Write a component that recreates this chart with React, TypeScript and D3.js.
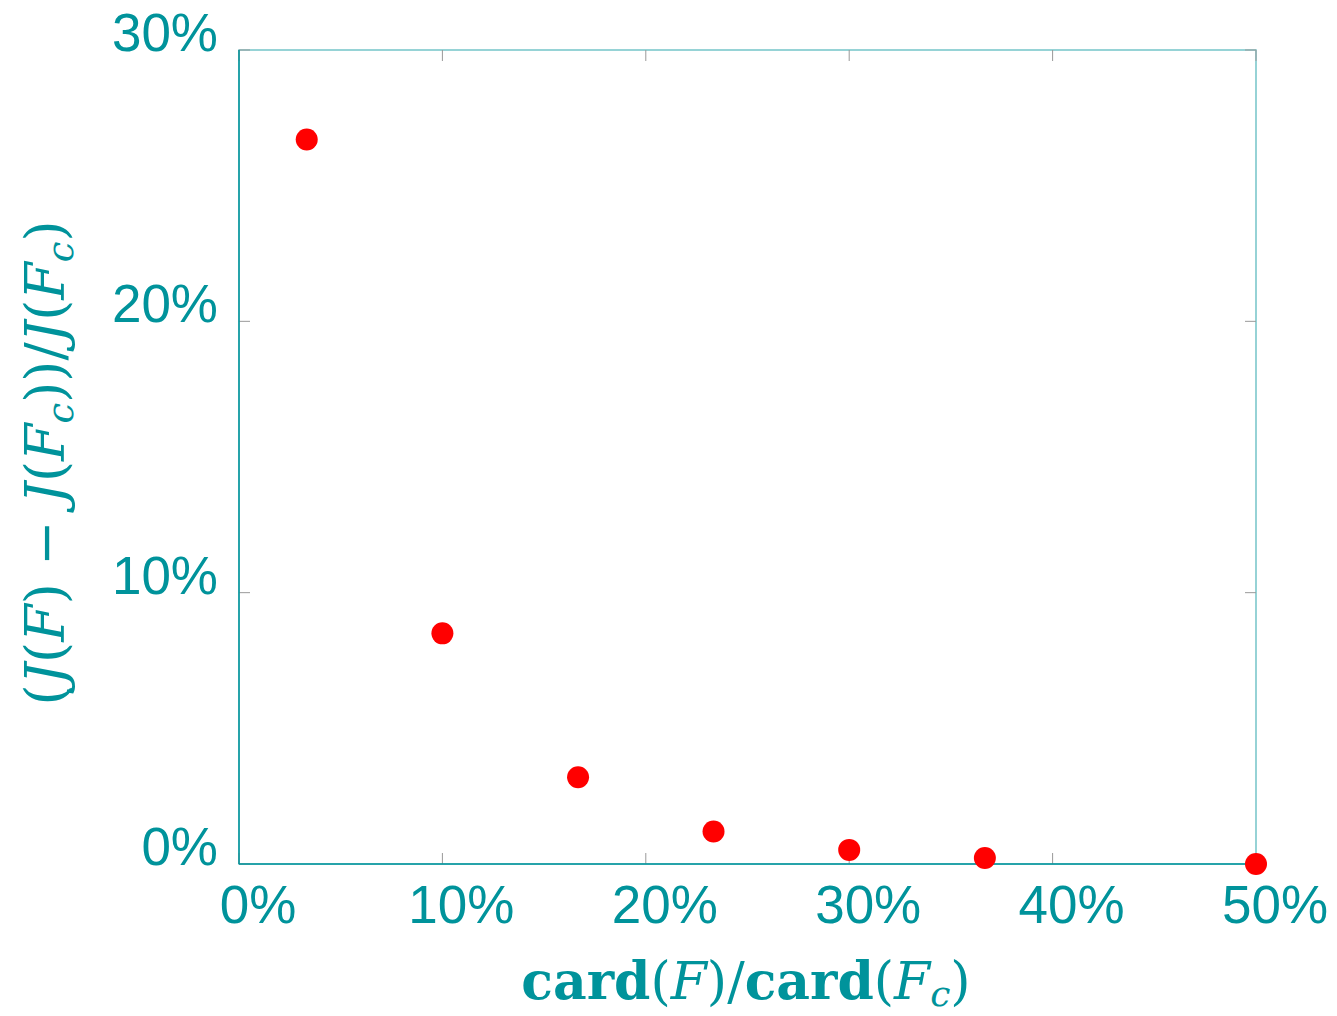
import React, { useEffect, useRef } from 'react';
import * as d3 from 'd3';

// relative size of F vs Fc (%) and relative cost increase (%)
const cardRatio = [3.33, 10, 16.67, 23.33, 30, 36.67, 50];
const costIncrease = [26.7, 8.5, 3.2, 1.2, 0.52, 0.22, 0];
const xTicks = [0, 10, 20, 30, 40, 50];
const yTicks = [0, 10, 20, 30];

const TEAL = '#00939b';

const App = () => {
  const ref = useRef<SVGSVGElement>(null);

  useEffect(() => {
    const width = 1337;
    const height = 1016;
    const m = { left: 239, right: 1256, top: 50, bottom: 864 };

    const svg = d3.select(ref.current);
    svg.selectAll('*').remove();

    const x = d3.scaleLinear().domain([0, 50]).range([m.left, m.right]);
    const y = d3.scaleLinear().domain([0, 30]).range([m.bottom, m.top]);

    // frame
    svg
      .append('rect')
      .attr('x', m.left)
      .attr('y', m.top)
      .attr('width', m.right - m.left)
      .attr('height', m.bottom - m.top)
      .attr('fill', 'none')
      .attr('stroke', TEAL)
      .attr('stroke-opacity', 0.55)
      .attr('stroke-width', 1.5);

    // inner ticks + labels
    xTicks.forEach((t) => {
      svg.append('line')
        .attr('x1', x(t)).attr('x2', x(t))
        .attr('y1', m.bottom).attr('y2', m.bottom - 11)
        .attr('stroke', '#999').attr('stroke-width', 1);
      svg.append('line')
        .attr('x1', x(t)).attr('x2', x(t))
        .attr('y1', m.top).attr('y2', m.top + 11)
        .attr('stroke', '#999').attr('stroke-width', 1);
      svg.append('text')
        .attr('x', x(t) + 19)
        .attr('y', 923)
        .attr('text-anchor', 'middle')
        .attr('font-family', 'Liberation Sans, Arial, sans-serif')
        .attr('font-size', 53)
        .attr('fill', TEAL)
        .text(`${t}%`);
    });

    yTicks.forEach((t) => {
      svg.append('line')
        .attr('x1', m.left).attr('x2', m.left + 11)
        .attr('y1', y(t)).attr('y2', y(t))
        .attr('stroke', '#999').attr('stroke-width', 1);
      svg.append('line')
        .attr('x1', m.right).attr('x2', m.right - 11)
        .attr('y1', y(t)).attr('y2', y(t))
        .attr('stroke', '#999').attr('stroke-width', 1);
      svg.append('text')
        .attr('x', 218)
        .attr('y', y(t) + 1)
        .attr('text-anchor', 'end')
        .attr('font-family', 'Liberation Sans, Arial, sans-serif')
        .attr('font-size', 53)
        .attr('fill', TEAL)
        .text(`${t}%`);
    });

    // left & bottom axis lines in solid teal
    svg.append('line')
      .attr('x1', m.left).attr('x2', m.right)
      .attr('y1', m.bottom).attr('y2', m.bottom)
      .attr('stroke', TEAL).attr('stroke-width', 1.5);
    svg.append('line')
      .attr('x1', m.left).attr('x2', m.left)
      .attr('y1', m.top).attr('y2', m.bottom)
      .attr('stroke', TEAL).attr('stroke-width', 1.5);

    // points
    svg.append('g')
      .selectAll('circle')
      .data(cardRatio.map((c, i) => ({ c, v: costIncrease[i] })))
      .enter()
      .append('circle')
      .attr('cx', (d) => x(d.c))
      .attr('cy', (d) => y(d.v))
      .attr('r', 11)
      .attr('fill', '#ff0000');

    // x label
    const xl = svg.append('text')
      .attr('x', 746)
      .attr('y', 999)
      .attr('text-anchor', 'middle')
      .attr('font-family', 'DejaVu Serif, Liberation Serif, serif')
      .attr('font-size', 52)
      .attr('fill', TEAL);
    xl.append('tspan').attr('font-weight', 'bold').text('card');
    xl.append('tspan').text('(');
    xl.append('tspan').attr('font-style', 'italic').text('F');
    xl.append('tspan').text(')/');
    xl.append('tspan').attr('font-weight', 'bold').text('card');
    xl.append('tspan').text('(');
    xl.append('tspan').attr('font-style', 'italic').text('F');
    xl.append('tspan').attr('font-style', 'italic').attr('font-size', 36).attr('dy', 7).text('c');
    xl.append('tspan').attr('dy', -7).text(')');

    // y label
    const yl = svg.append('text')
      .attr('transform', 'translate(64,463) rotate(-90)')
      .attr('text-anchor', 'middle')
      .attr('font-family', 'DejaVu Serif, Liberation Serif, serif')
      .attr('font-size', 54)
      .attr('fill', TEAL);
    yl.append('tspan').text('(');
    yl.append('tspan').attr('font-style', 'italic').text('J');
    yl.append('tspan').text('(');
    yl.append('tspan').attr('font-style', 'italic').text('F');
    yl.append('tspan').text(') − ');
    yl.append('tspan').attr('font-style', 'italic').text('J');
    yl.append('tspan').text('(');
    yl.append('tspan').attr('font-style', 'italic').text('F');
    yl.append('tspan').attr('font-style', 'italic').attr('font-size', 37).attr('dy', 9).text('c');
    yl.append('tspan').attr('dy', -9).text('))/');
    yl.append('tspan').attr('font-style', 'italic').text('J');
    yl.append('tspan').text('(');
    yl.append('tspan').attr('font-style', 'italic').text('F');
    yl.append('tspan').attr('font-style', 'italic').attr('font-size', 37).attr('dy', 9).text('c');
    yl.append('tspan').attr('dy', -9).text(')');

    svg.attr('width', width).attr('height', height);
  }, []);

  return (
    <svg
      ref={ref}
      width={1337}
      height={1016}
      style={{ position: 'absolute', left: 0, top: 0, background: '#fff' }}
    />
  );
};

export default App;
